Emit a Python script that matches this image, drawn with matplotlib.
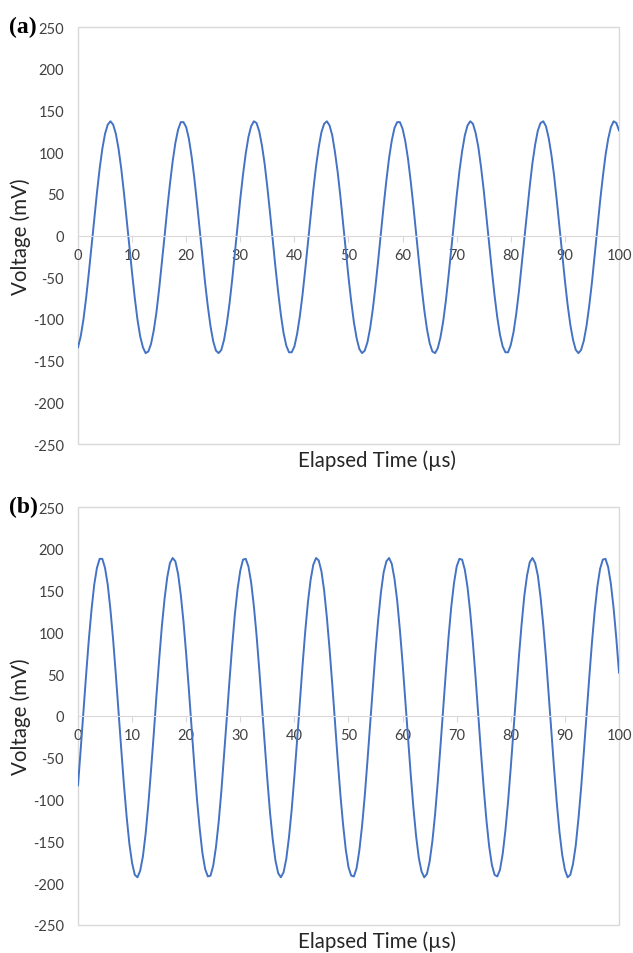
import numpy as np
import matplotlib
matplotlib.use("Agg")
import matplotlib.pyplot as plt
from matplotlib.patches import Rectangle

plt.rcParams["font.family"] = ["Lato", "DejaVu Sans"]
plt.rcParams["axes.unicode_minus"] = False

# sample grid of the scope traces, every 0.5 us from 0 to 100 us
time_us = np.linspace(0, 100, 201)

# trace (a), mV
voltage_a = [
    -134, -121, -101, -75, -45, -13, 19, 51, 80, 104,
    122, 133, 137, 133, 122, 104, 80, 51, 19, -13,
    -45, -75, -101, -121, -134, -141, -139, -130, -114, -92,
    -64, -33, -1, 32, 62, 89, 111, 127, 136, 136,
    130, 116, 95, 69, 39, 7, -26, -57, -85, -109,
    -127, -138, -141, -137, -125, -106, -82, -53, -21, 12,
    44, 73, 98, 118, 131, 137, 135, 125, 108, 86,
    58, 27, -6, -38, -68, -95, -117, -132, -140, -140,
    -133, -118, -97, -71, -41, -9, 24, 55, 83, 106,
    124, 134, 137, 132, 120, 100, 76, 47, 15, -18,
    -50, -79, -104, -123, -136, -141, -138, -128, -111, -88,
    -60, -29, 4, 36, 66, 93, 114, 129, 136, 136,
    128, 113, 92, 65, 35, 2, -30, -61, -89, -112,
    -129, -139, -141, -135, -122, -103, -78, -48, -16, 16,
    48, 77, 101, 120, 132, 137, 134, 123, 106, 82,
    54, 22, -10, -42, -72, -98, -119, -133, -140, -140,
    -131, -116, -94, -67, -36, -4, 28, 59, 87, 109,
    126, 135, 137, 131, 117, 97, 72, 42, 10, -23,
    -54, -83, -107, -125, -137, -141, -137, -126, -108, -84,
    -56, -24, 8, 41, 70, 96, 116, 130, 137, 135,
    126,
]

# trace (b), mV
voltage_b = [
    -83, -40, 5, 49, 91, 127, 157, 177, 188, 188,
    177, 157, 127, 91, 49, 4, -40, -83, -121, -153,
    -176, -190, -193, -185, -168, -141, -106, -65, -22, 24,
    67, 107, 140, 166, 183, 189, 185, 170, 145, 113,
    74, 31, -14, -59, -100, -135, -164, -183, -192, -191,
    -179, -157, -127, -90, -47, -3, 42, 84, 122, 152,
    174, 187, 188, 179, 160, 132, 97, 56, 12, -33,
    -76, -116, -148, -173, -188, -193, -187, -171, -145, -112,
    -72, -29, 16, 60, 101, 136, 163, 181, 189, 186,
    173, 150, 118, 80, 38, -7, -52, -94, -130, -160,
    -181, -191, -192, -182, -161, -132, -96, -54, -10, 35,
    78, 116, 148, 172, 185, 189, 182, 164, 138, 103,
    63, 19, -26, -70, -110, -144, -170, -186, -193, -189,
    -174, -150, -118, -79, -36, 9, 53, 95, 131, 159,
    179, 188, 187, 175, 154, 124, 87, 45, 0, -45,
    -87, -125, -156, -178, -190, -192, -184, -165, -137, -102,
    -61, -17, 28, 71, 110, 144, 168, 184, 189, 183,
    168, 142, 109, 70, 26, -19, -63, -104, -139, -166,
    -184, -193, -190, -177, -155, -123, -86, -43, 2, 46,
    88, 125, 155, 176, 187, 188, 178, 158, 129, 93,
    52,
]

panel_labels = ["(a)", "(b)"]
x_ticks = list(range(0, 101, 10))
y_ticks = list(range(-250, 251, 50))

LINE = "#4472C4"
FRAME = "#d9d9d9"
TICK_TEXT = "#404040"
TITLE_TEXT = "#262626"


def draw_panel(fig, rect, values, label):
    ax = fig.add_axes(rect)
    ax.plot(time_us, values, color=LINE, lw=1.4)
    ax.set_xlim(0, 100)
    ax.set_ylim(-250, 250)

    # plot area frame, x axis runs through zero
    for side in ["top", "right", "left"]:
        ax.spines[side].set_visible(False)
    ax.spines["bottom"].set_position(("data", 0))
    ax.spines["bottom"].set_color(FRAME)
    ax.add_patch(Rectangle((0, 0), 1, 1, transform=ax.transAxes, fill=False,
                           edgecolor=FRAME, lw=1, clip_on=False))

    ax.set_xticks(x_ticks)
    ax.set_yticks(y_ticks)
    ax.tick_params(axis="x", direction="out", length=4, color=FRAME,
                   labelcolor=TICK_TEXT, labelsize=10.5, pad=5)
    ax.tick_params(axis="y", length=0, labelcolor=TICK_TEXT, labelsize=10.5, pad=10)

    ax.set_xlabel("Elapsed Time (µs)", fontsize=14.8, color=TITLE_TEXT)
    ax.set_ylabel("Voltage (mV)", fontsize=14.8, color=TITLE_TEXT)
    ax.xaxis.set_label_coords(0.553, -0.014)
    ax.yaxis.set_label_coords(-0.087, 0.5)

    x0, y0, w, h = rect
    fig.text(0.015, y0 + h + 0.0005, label, family=["Liberation Serif"],
             weight="bold", fontsize=17, va="center")
    return ax


fig = plt.figure(figsize=(6.33, 9.54), dpi=100)
draw_panel(fig, [0.1232, 0.5335, 0.8547, 0.4371], voltage_a, panel_labels[0])
draw_panel(fig, [0.1232, 0.0294, 0.8547, 0.4381], voltage_b, panel_labels[1])
fig.savefig("out.png", dpi=100)
